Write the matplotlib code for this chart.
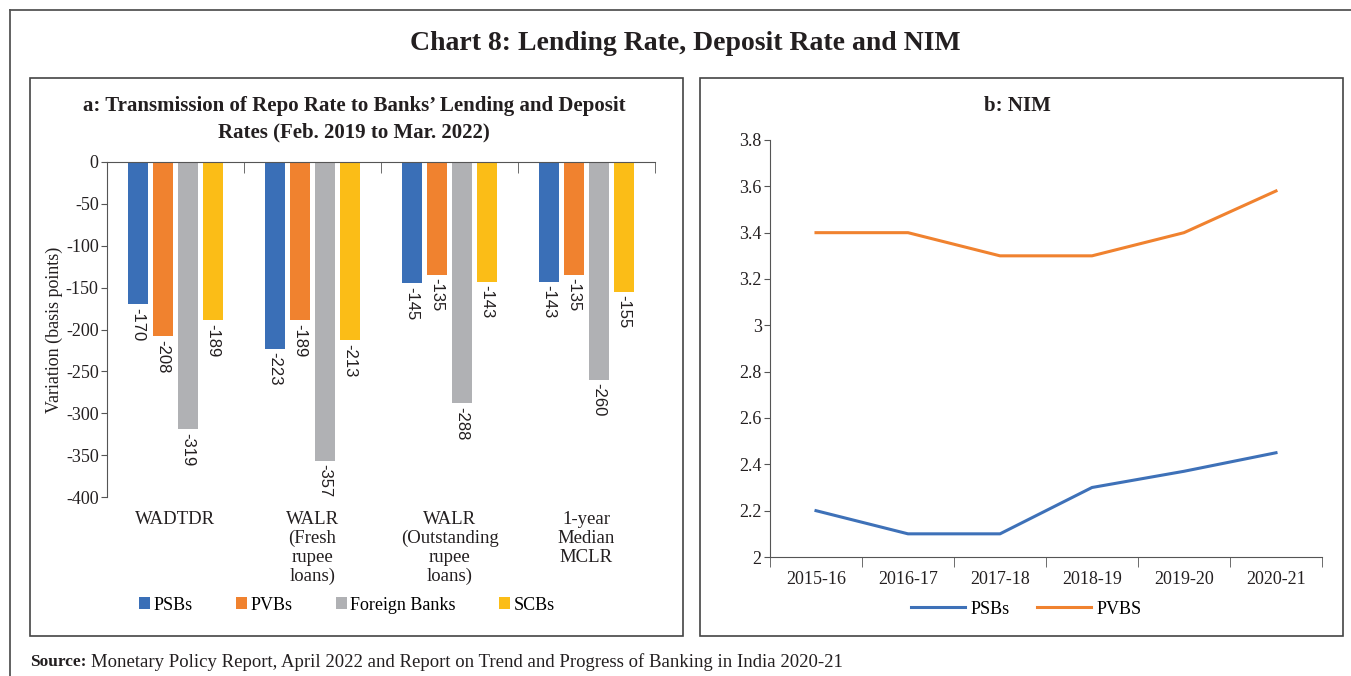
import numpy as np
import matplotlib.pyplot as plt
from matplotlib.patches import Rectangle
from matplotlib.lines import Line2D

W, H = 1351, 676

# panel a data (basis points)
groups = ['WADTDR', 'WALR\n(Fresh\nrupee\nloans)', 'WALR\n(Outstanding\nrupee\nloans)', '1-year\nMedian\nMCLR']
psbs = [-170, -223, -145, -143]
pvbs = [-208, -189, -135, -135]
foreign = [-319, -357, -288, -260]
scbs = [-189, -213, -143, -155]
bank_names = ['PSBs', 'PVBs', 'Foreign Banks', 'SCBs']
bar_colors = ['#3a6fb7', '#f0822f', '#b0b1b4', '#fbbd17']

# panel b data (per cent)
years = ['2015-16', '2016-17', '2017-18', '2018-19', '2019-20', '2020-21']
nim_psbs = [2.2, 2.1, 2.1, 2.3, 2.37, 2.45]
nim_pvbs = [3.4, 3.4, 3.3, 3.3, 3.4, 3.58]

serif = 'Liberation Serif'
sans = 'Liberation Sans'
plt.rcParams['font.family'] = serif
plt.rcParams['axes.unicode_minus'] = False
ink = '#231f20'


def box(x0, y0, x1, y1):
    # pixel box -> figure fraction
    return [x0 / W, 1 - y1 / H, (x1 - x0) / W, (y1 - y0) / H]


fig = plt.figure(figsize=(W / 100, H / 100), dpi=100)

# outer frame (top + left)
fig.add_artist(Line2D([10 / W, 1], [1 - 10 / H, 1 - 10 / H], color='#555555', lw=1.3))
fig.add_artist(Line2D([10 / W, 10 / W], [0, 1 - 10 / H], color='#555555', lw=1.3))
# panel frames
for x0, x1 in [(30, 683), (700, 1343)]:
    fig.add_artist(Rectangle((x0 / W, 1 - 636 / H), (x1 - x0) / W, (636 - 78) / H,
                             transform=fig.transFigure, fill=False, ec='#444444', lw=1.2))

fig.text(685 / W, 1 - 44 / H, 'Chart 8: Lending Rate, Deposit Rate and NIM',
         ha='center', va='center', fontsize=20, fontweight='bold', color=ink)

# ---- panel a ----
ax = fig.add_axes(box(107, 162, 655, 497))
x = np.arange(len(groups))
offs = [-0.274, -0.091, 0.091, 0.274]
series = [psbs, pvbs, foreign, scbs]
for off, vals, c, name in zip(offs, series, bar_colors, bank_names):
    ax.bar(x + off, vals, width=0.146, color=c, label=name)
    for xi, v in zip(x + off, vals):
        ax.text(xi, v - 4, str(v), rotation=270, ha='center', va='top',
                fontsize=12, family=sans, color=ink)
ax.set_xlim(-0.5, 3.5)
ax.set_ylim(-400, 0)
ax.set_yticks(np.arange(-400, 1, 50))
ax.set_xticks(x)
ax.set_xticklabels(groups, fontsize=13.5, linespacing=1.15, color=ink)
ax.set_xticks(np.arange(-0.5, 3.6, 1), minor=True)
ax.tick_params(axis='x', which='major', length=0, pad=10)
ax.tick_params(axis='x', which='minor', bottom=False, top=True, direction='in', length=8, color='#555555')
ax.tick_params(axis='y', length=4, labelsize=13, labelcolor=ink, color='#555555', pad=2)
for s in ['right', 'bottom']:
    ax.spines[s].set_visible(False)
for s in ['left', 'top']:
    ax.spines[s].set_color('#555555')
ax.set_ylabel('Variation (basis points)', fontsize=13, color=ink, labelpad=2)
fig.text(354 / W, 1 - 119 / H,
         "a: Transmission of Repo Rate to Banks\u2019 Lending and Deposit\nRates (Feb. 2019 to Mar. 2022)",
         ha='center', va='center', fontsize=15, fontweight='bold', color=ink, linespacing=1.45)
ax.legend(loc='center', bbox_to_anchor=(347 / W, 1 - 605 / H), bbox_transform=fig.transFigure,
          ncol=4, frameon=False, fontsize=13, handlelength=0.6, handleheight=0.6,
          handletextpad=0.2, columnspacing=2.4)

# ---- panel b ----
bx = fig.add_axes(box(770, 140, 1322, 557))
xb = np.arange(len(years))
bx.plot(xb, nim_psbs, color='#3e71b8', lw=2.2, label='PSBs')
bx.plot(xb, nim_pvbs, color='#f0822f', lw=2.2, label='PVBS')
bx.set_xlim(-0.5, 5.5)
bx.set_ylim(2, 3.8)
yt = np.round(np.arange(2, 3.81, 0.2), 1)
bx.set_yticks(yt)
bx.set_yticklabels([f'{v:g}' for v in yt])
bx.set_xticks(xb)
bx.set_xticklabels(years)
bx.set_xticks(np.arange(-0.5, 5.6, 1), minor=True)
bx.tick_params(axis='x', which='major', length=0, pad=10, labelsize=13, labelcolor=ink)
bx.tick_params(axis='x', which='minor', length=7, color='#555555')
bx.tick_params(axis='y', length=4, labelsize=13, labelcolor=ink, color='#555555', pad=2)
for s in ['right', 'top']:
    bx.spines[s].set_visible(False)
for s in ['left', 'bottom']:
    bx.spines[s].set_color('#555555')
fig.text(1017 / W, 1 - 106 / H, 'b: NIM', ha='center', va='center',
         fontsize=15, fontweight='bold', color=ink)
bx.legend(loc='center', bbox_to_anchor=(1026 / W, 1 - 609 / H), bbox_transform=fig.transFigure,
          ncol=2, frameon=False, fontsize=13, handlelength=3.0, handletextpad=0.3, columnspacing=1.5)

# source line: bold label followed by regular text
src = fig.text(30 / W, 1 - 662 / H, 'Source:', fontsize=12.5, fontweight='bold', color=ink, va='center')
r = fig.canvas.get_renderer()
ext = src.get_window_extent(renderer=r)
fig.text((ext.x1 + 5) / W, 1 - 662 / H,
         'Monetary Policy Report, April 2022 and Report on Trend and Progress of Banking in India 2020-21',
         fontsize=13.5, color=ink, va='center')

fig.savefig('out.png', dpi=100)
